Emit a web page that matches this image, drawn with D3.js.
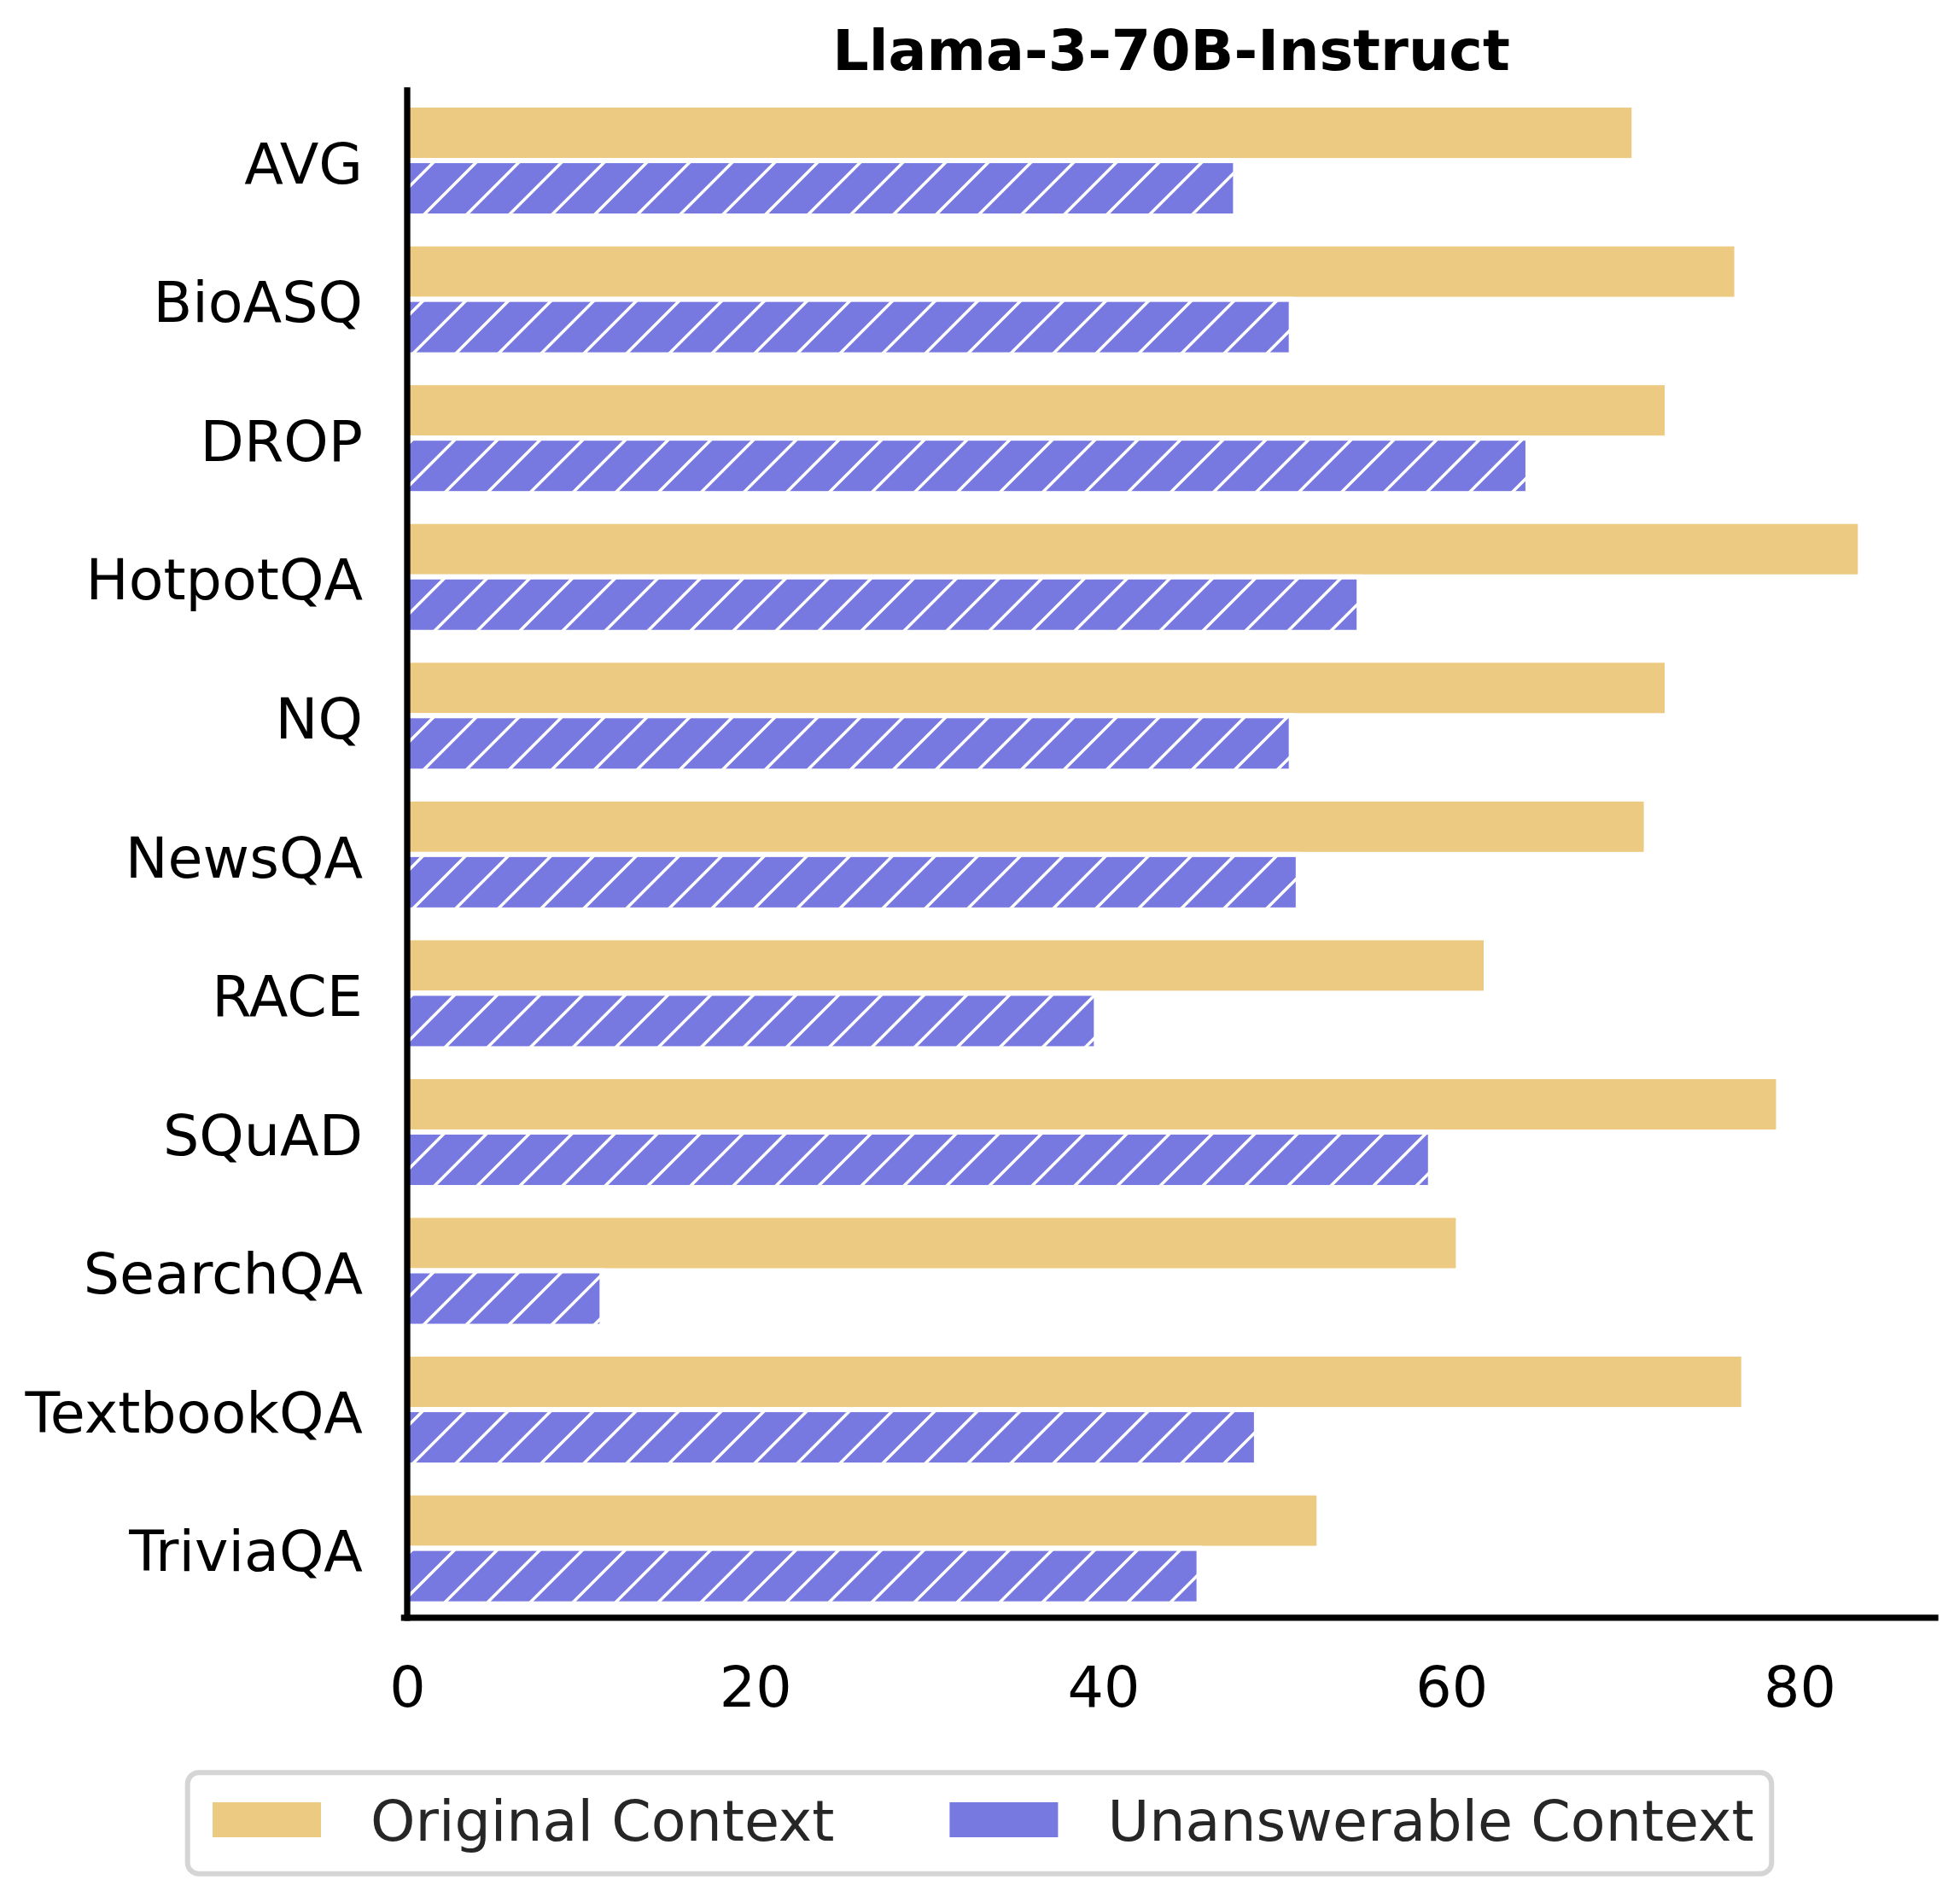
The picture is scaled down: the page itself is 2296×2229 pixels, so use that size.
<!DOCTYPE html>
<html>
<head>
<meta charset="utf-8">
<script src="https://cdn.jsdelivr.net/npm/d3@7"></script>
<style>
  body { margin: 0; background: #fff; }
  text { font-family: "DejaVu Sans", sans-serif; }
</style>
</head>
<body>
<svg id="chart"></svg>
<script>
var categories = ["AVG", "BioASQ", "DROP", "HotpotQA", "NQ", "NewsQA", "RACE", "SQuAD", "SearchQA", "TextbookQA", "TriviaQA"];
var series = ["Original Context", "Unanswerable Context"];
var originalVals = [70.5, 76.4, 72.4, 83.5, 72.4, 71.2, 62.0, 78.8, 60.4, 76.8, 52.4];
var unanswerableVals = [47.6, 50.8, 64.4, 54.7, 50.8, 51.2, 39.6, 58.8, 11.2, 48.8, 45.5];
var xTicks = [0, 20, 40, 60, 80];
var title = "Llama-3-70B-Instruct";

var W = 2296, H = 2229;
var plotL = 477, plotR = 2267, plotT = 106.8, plotB = 1894.9;
var fontPx = 66.7;
var orange = "#edca82", purple = "#7879e0";

var svg = d3.select("#chart").attr("width", W).attr("height", H);

// hatch for the unanswerable bars, white "/" lines on purple
var defs = svg.append("defs");
var pat = defs.append("pattern")
  .attr("id", "hatch")
  .attr("patternUnits", "userSpaceOnUse")
  .attr("width", 50).attr("height", 50)
  .attr("x", 48).attr("y", 0);
pat.append("rect").attr("width", 50).attr("height", 50).attr("fill", purple);
pat.append("path")
  .attr("d", "M0,50 L50,0 M-5,5 L5,-5 M45,55 L55,45")
  .attr("stroke", "#fff").attr("stroke-width", 3.5);

var x = d3.scaleLinear().domain([0, 87.8]).range([plotL, plotR]);
var y = d3.scaleBand().domain(categories).range([plotT, plotB]).padding(0);
var bw = y.bandwidth();
var yInner = d3.scaleBand().domain(series).range([0.1 * bw, 0.9 * bw]).padding(0);

var rows = categories.map(function (c, i) {
  return [
    {cat: c, s: series[0], v: originalVals[i], fill: orange},
    {cat: c, s: series[1], v: unanswerableVals[i], fill: "url(#hatch)"}
  ];
});

svg.append("g").selectAll("g")
  .data(rows)
  .join("g")
  .selectAll("rect")
  .data(function (d) { return d; })
  .join("rect")
  .attr("x", x(0))
  .attr("y", function (d) { return y(d.cat) + yInner(d.s); })
  .attr("width", function (d) { return x(d.v) - x(0); })
  .attr("height", yInner.bandwidth())
  .attr("fill", function (d) { return d.fill; })
  .attr("stroke", "#fff")
  .attr("stroke-width", 6);

// axes
var xAxis = d3.axisBottom(x).tickValues(xTicks).tickSize(0).tickSizeOuter(0).tickPadding(57).tickFormat(d3.format("d"));
var gx = svg.append("g").attr("transform", "translate(0," + plotB + ")").call(xAxis);
gx.select(".domain").attr("d", "M" + (plotL - 3.6) + ",0H" + plotR)
  .attr("stroke", "#000").attr("stroke-width", 7.3).attr("stroke-linecap", "square");
gx.selectAll("text").attr("font-size", fontPx).attr("fill", "#000").style("font-family", "DejaVu Sans");

var yAxis = d3.axisLeft(y).tickSize(0).tickSizeOuter(0).tickPadding(52);
var gy = svg.append("g").attr("transform", "translate(" + plotL + ",0)").call(yAxis);
gy.select(".domain").attr("d", "M0," + (plotT - 1) + "V" + plotB)
  .attr("stroke", "#000").attr("stroke-width", 7.3).attr("stroke-linecap", "square");
gy.selectAll("text").attr("font-size", fontPx).attr("fill", "#000").attr("dy", "0.4em").style("font-family", "DejaVu Sans");

// title
svg.append("text")
  .attr("x", (plotL + plotR) / 2).attr("y", 82)
  .attr("text-anchor", "middle")
  .attr("font-size", fontPx).attr("font-weight", "bold")
  .text(title);

// legend
var lg = svg.append("g");
lg.append("rect")
  .attr("x", 219.7).attr("y", 2076.3).attr("width", 1855.6).attr("height", 118.4)
  .attr("rx", 13).attr("fill", "#fff")
  .attr("stroke", "#d5d5d5").attr("stroke-width", 6);
var lx = 249;
series.forEach(function (s, i) {
  lg.append("rect").attr("x", lx).attr("y", 2111).attr("width", 127).attr("height", 41)
    .attr("fill", i === 0 ? orange : purple);
  var t = lg.append("text").attr("x", lx + 127 + 58).attr("y", 2156)
    .attr("font-size", fontPx).attr("fill", "#262626").text(s);
  lx = lx + 127 + 58 + t.node().getComputedTextLength() + 135;
});
</script>
</body>
</html>
